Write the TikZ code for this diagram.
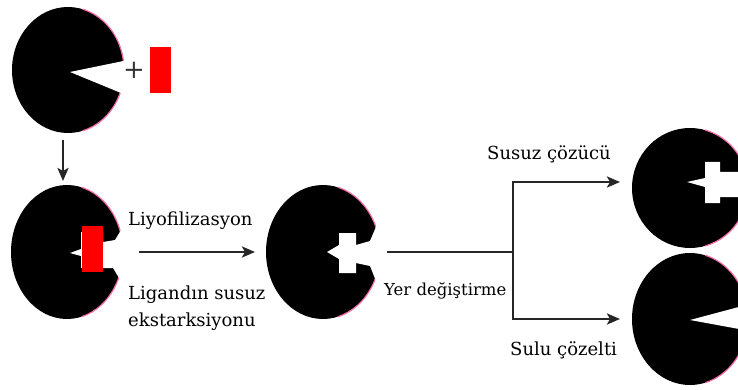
\documentclass[tikz,border=0pt]{standalone}
\usepackage{fontspec}
\setmainfont{DejaVu Serif}
\usetikzlibrary{positioning, arrows.meta, shapes.geometric}

\begin{document}
\begin{tikzpicture}[
    x=1pt, y=-1pt,
    >={Stealth[length=13pt, width=11pt, inset=3pt]},
    % Styles for receptors, ligands and labels
    receptor/.style={ellipse, fill=black, inner sep=0pt, outer sep=0pt},
    ligand/.style={rectangle, fill=red, inner sep=0pt, minimum width=21pt, minimum height=46pt},
    cavity/.style={fill=white},
    rim/.style={draw=magenta!45!pink, line width=1.2pt},
    flow/.style={->, line width=2.6pt, draw=black!85},
    tag/.style={font=\fontsize{18}{22}\selectfont, inner sep=0pt, anchor=base west}
]
    \useasboundingbox (0,0) rectangle (738,390);
    \clip (0,0) rectangle (738,390);

    % Receptors
    \node (r1) [receptor, minimum width=112pt, minimum height=126pt] at (68,70) {};
    \node (r2) [receptor, minimum width=112pt, minimum height=134pt] at (67,252) {};
    \node (r3) [receptor, minimum width=114pt, minimum height=134pt] at (323,252) {};
    \node (r4) [receptor, minimum width=116pt, minimum height=120pt] at (690,188) {};
    \node (r5) [receptor, minimum width=116pt, minimum height=132pt] at (690,319) {};

    % Pink rims on the right side
    \foreach \r/\a/\b in {r1/56/63, r2/56/67, r3/57/67, r4/58/60, r5/58/66}
        \draw[rim] (\r.center) ++(-75:\a pt and \b pt) arc[start angle=-75, end angle=75, x radius=\a pt, y radius=\b pt];

    % Binding sites
    \fill[cavity, shift={(r1.center)}] (2,2) -- (70,-12) -- (70,30) -- cycle;
    \fill[cavity, shift={(r2.center)}] (3,1) -- (14,-3) -- (14,-20) -- (36,-20) -- (36,-10) -- (48,-12)
        -- (54,-22) -- (58,-45) -- (75,-45) -- (75,45) -- (58,45) -- (52,26) -- (46,16) -- (14,16) -- (14,4) -- cycle;
    \fill[cavity, shift={(r3.center)}] (4,0) -- (16,-7) -- (16,-19) -- (33,-19) -- (33,-7) -- (47,-11)
        -- (55,-30) -- (80,-30) -- (80,34) -- (55,34) -- (47,14) -- (33,11) -- (33,21) -- (16,21) -- (16,7) -- cycle;
    \fill[cavity, shift={(r4.center)}] (-3,-6) -- (15,-10) -- (15,-26) -- (30,-26) -- (30,-16) -- (60,-16)
        -- (60,9) -- (30,9) -- (30,15) -- (15,15) -- (15,-1) -- cycle;
    \fill[cavity, shift={(r5.center)}] (0,1) -- (60,-15) -- (60,12) -- cycle;

    % Ligands
    \node (free) [ligand] at (160,70) {};
    \node (bound) [ligand] at (92,249) {};
    \node (plus) [font=\fontsize{26}{26}\selectfont, text=black!80, inner sep=0pt] at (134,70) {+};

    % Labels
    \node (lyo) [tag] at (128,225) {Liyofilizasyon};
    \node (extr1) [tag] at (128,299) {Ligandın susuz};
    \node (extr2) [tag] at (128,326) {ekstarksiyonu};
    \node (swap) [tag, font=\fontsize{16.5}{20}\selectfont] at (384,295) {Yer değiştirme};
    \node (dry) [tag] at (487,160) {Susuz çözücü};
    \node (wet) [tag] at (510,355) {Sulu çözelti};

    % Arrows
    \coordinate (split) at (513,252);
    \draw[flow, shorten <=7pt, shorten >=4pt] ([xshift=-5pt]r1.south) -- ([xshift=-4pt]r2.north);
    \draw[flow, shorten <=16pt, shorten >=11pt] (r2.east) -- (r3.west);
    \draw[flow, -, shorten <=7pt] (r3.east) -- (split);
    \draw[flow, shorten >=12pt] (split) |- ([yshift=6pt]r4.west);
    \draw[flow, shorten >=12pt] (split) |- (r5.west);
\end{tikzpicture}
\end{document}
